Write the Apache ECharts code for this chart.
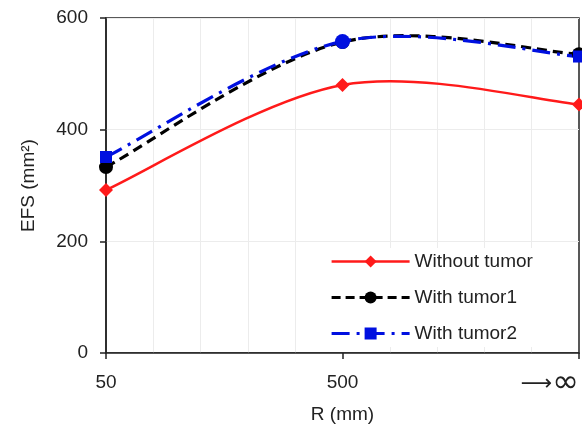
<!DOCTYPE html>
<html><head><meta charset="utf-8">
<script src="https://cdn.jsdelivr.net/npm/echarts@6/dist/echarts.min.js"></script>
<style>html,body{margin:0;padding:0;background:#fff}#c{width:582px;height:427px}</style>
</head><body><div id="c"></div>
<script>
const categories = ['50', '500', '→∞'];
const withoutTumor = [292, 480, 445];
const withTumor1 = [333, 557, 535];
const withTumor2 = [351, 558, 531];
const yTicks = [0, 200, 400, 600];

const chart = echarts.init(document.getElementById('c'));
const font = 'Liberation Sans, Arial, sans-serif';
function pts(arr){ return arr.map((v,i)=>[i,v]); }

// Excel-style smoothed curve through the data points, positioned through the axes (api.coord)
function curveSeries(name, arr, lineStyle){
  return {
    name: name+'_curve', type:'custom', silent:true, z:1,
    data: pts(arr),
    renderItem: function(params, api){
      if (params.dataIndex !== 0) return null;
      const n = arr.length;
      const P = [];
      for (let j=0;j<n;j++) P.push(api.coord([api.value(0,j), api.value(1,j)]));
      let d = 'M'+P[0][0]+','+P[0][1];
      for (let j=0;j<n-1;j++){
        const p0 = P[Math.max(j-1,0)], p1=P[j], p2=P[j+1], p3=P[Math.min(j+2,n-1)];
        const c1=[p1[0]+(p2[0]-p0[0])/6, p1[1]+(p2[1]-p0[1])/6];
        const c2=[p2[0]-(p3[0]-p1[0])/6, p2[1]-(p3[1]-p1[1])/6];
        d += ' C'+c1[0]+','+c1[1]+' '+c2[0]+','+c2[1]+' '+p2[0]+','+p2[1];
      }
      return {type:'path', shape:{pathData:d}, style:Object.assign({fill:null}, lineStyle)};
    }
  };
}

function fmtX(v){
  const s = categories[v];
  if (s === undefined) return '';
  if (s.indexOf('∞') >= 0) return '{arr|' + s.replace('∞','').replace('→','⟶') + '}{inf|∞}';
  return s;
}

const red='#ff1a1a', black='#000', blue='#0010e0';
chart.setOption({
  animation:false,
  backgroundColor:'#fff',
  grid:{left:106,right:3,top:18,bottom:74,outerBoundsMode:'none',containLabel:false,
    show:true,borderColor:'#222',borderWidth:1.5,backgroundColor:'transparent'},
  xAxis:{type:'value',min:0,max:categories.length-1,interval:1,
    name:'R (mm)',nameLocation:'middle',nameGap:46,
    nameTextStyle:{fontFamily:font,fontSize:19,color:'#222'},
    axisLine:{show:true,onZero:false,lineStyle:{color:'#222',width:1.5}},
    axisTick:{show:true,length:6,lineStyle:{color:'#222',width:1.5}},
    axisLabel:{fontFamily:font,fontSize:19,color:'#222',margin:20,alignMaxLabel:'right',
      formatter:fmtX,
      rich:{arr:{fontFamily:'DejaVu Sans',fontSize:22,color:'#222'},
            inf:{fontFamily:'DejaVu Sans',fontSize:32,color:'#222',lineHeight:22}}},
    splitLine:{show:false},
    minorTick:{show:false,splitNumber:5},
    minorSplitLine:{show:true,lineStyle:{color:'#ececec',width:1}}
  },
  yAxis:{type:'value',min:yTicks[0],max:yTicks[yTicks.length-1],interval:200,
    name:'EFS (mm²)',nameLocation:'middle',nameGap:68,
    nameTextStyle:{fontFamily:font,fontSize:19,color:'#222'},
    axisLine:{show:true,lineStyle:{color:'#222',width:1.5}},
    axisTick:{show:true,length:6,lineStyle:{color:'#222',width:1.5}},
    axisLabel:{fontFamily:font,fontSize:19,color:'#222',margin:18},
    splitLine:{show:true,lineStyle:{color:'#ececec',width:1}}
  },
  legend:{orient:'vertical',left:328,top:248,itemGap:17,itemWidth:78,itemHeight:15,
    backgroundColor:'#fff',padding:[4,6,4,2],
    textStyle:{fontFamily:font,fontSize:19,color:'#222'},
    data:[
      {name:'Without tumor',lineStyle:{opacity:1,width:2.5,color:red,type:'solid'}},
      {name:'With tumor1',lineStyle:{opacity:1,width:3.2,color:black,type:[9,5]}},
      {name:'With tumor2',lineStyle:{opacity:1,width:3.2,color:blue,type:[18,7,3,7]}}
    ]},
  series:[
    curveSeries('Without tumor', withoutTumor, {stroke:red, lineWidth:2.5}),
    curveSeries('With tumor1', withTumor1, {stroke:black, lineWidth:3.2, lineDash:[10,6]}),
    curveSeries('With tumor2', withTumor2, {stroke:blue, lineWidth:3.2, lineDash:[18,7,3,7]}),
    {name:'Without tumor',type:'line',data:pts(withoutTumor),z:3,
      symbol:'diamond',symbolSize:14,
      lineStyle:{color:red,width:2.5,opacity:0},itemStyle:{color:red}},
    {name:'With tumor1',type:'line',data:pts(withTumor1),z:3,
      symbol:'circle',symbolSize:14,
      lineStyle:{color:black,width:3.2,type:[9,5],opacity:0},itemStyle:{color:black}},
    {name:'With tumor2',type:'line',z:4,
      data:pts(withTumor2).map((p,i)=> i===1?{value:p,symbol:'circle',symbolSize:15}:p),
      symbol:'rect',symbolSize:12,
      lineStyle:{color:blue,width:3.2,type:[18,7,3,7],opacity:0},itemStyle:{color:blue}}
  ]
});
</script></body></html>
